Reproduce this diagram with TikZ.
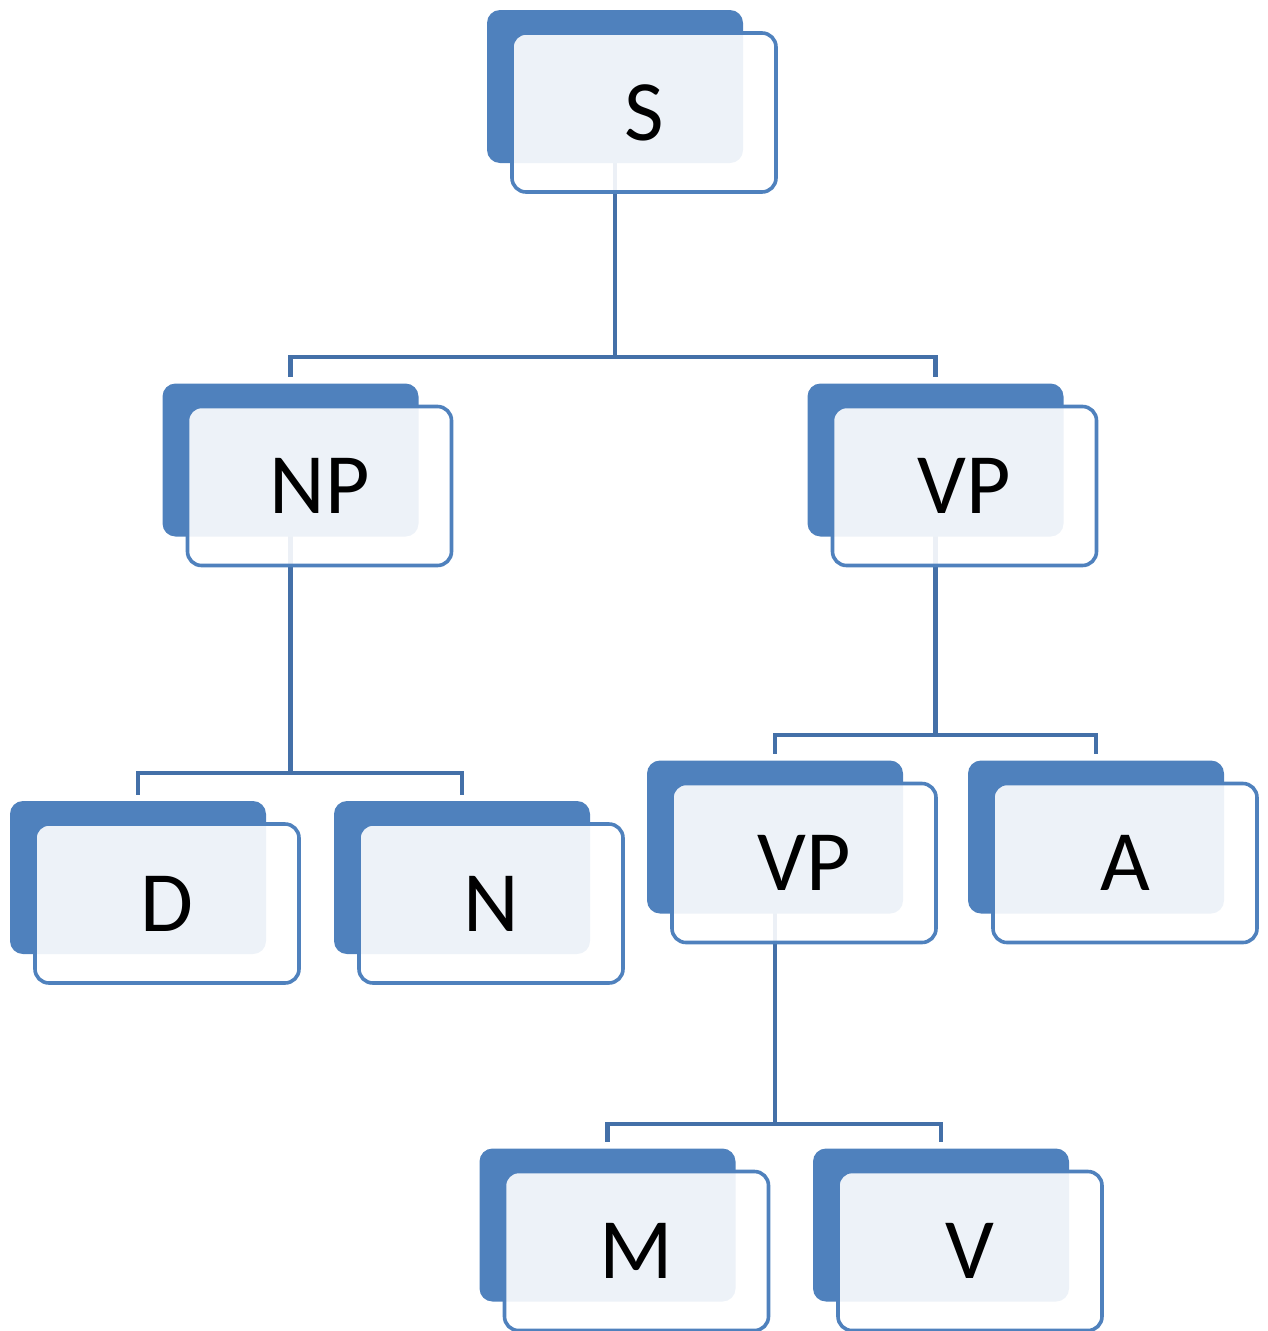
\documentclass[tikz,border=0pt]{standalone}
\usepackage{fontspec}
\setmainfont{Carlito}
\definecolor{cBack}{HTML}{4F81BD}
\definecolor{cLine}{HTML}{4470A8}
\pgfdeclarelayer{bg}
\pgfsetlayers{bg,main}
\newcommand\treenode[4]{%
  \path (#2,#3) ++(-29,-26) node[backbox] (#1b) {};
  \node[frontbox] (#1) at (#2,#3) {#4};}
\begin{document}
\begin{tikzpicture}[x=1pt,y=-1pt,
  backbox/.style={fill=cBack, rounded corners=13pt, minimum width=256pt, minimum height=153pt, inner sep=0pt},
  frontbox/.style={draw=cBack, line width=3.6pt, fill=white, fill opacity=0.9, text opacity=1,
    rounded corners=14pt, minimum width=264pt, minimum height=159pt, inner sep=0pt,
    font=\fontsize{86}{90}\selectfont},
  conn/.style={draw=cLine, line width=4.8pt, shorten >=6pt}]
\useasboundingbox (0,0) rectangle (1267,1331);
\treenode{S}{644}{112.5}{S}
\treenode{NP}{319.5}{486}{NP}
\treenode{VP}{964.5}{486}{VP}
\treenode{D}{167}{903.5}{D}
\treenode{N}{491}{903.5}{N}
\treenode{VPtwo}{804}{863}{VP}
\treenode{A}{1125}{863}{A}
\treenode{M}{636.5}{1251}{M}
\treenode{V}{970}{1251}{V}
\begin{pgfonlayer}{bg}
\coordinate (j1) at (Sb.center |- 0,357);
\coordinate (j2) at (NPb.center |- 0,773);
\coordinate (j3) at (VPb.center |- 0,735);
\coordinate (j4) at (VPtwob.center |- 0,1124);
\draw[conn, shorten >=0pt] (Sb.center) -- (j1);
\draw[conn] (j1) -| (NPb.north);
\draw[conn] (j1) -| (VPb.north);
\draw[conn, shorten >=0pt] (NPb.center) -- (j2);
\draw[conn] (j2) -| (Db.north);
\draw[conn] (j2) -| (Nb.north);
\draw[conn, shorten >=0pt] (VPb.center) -- (j3);
\draw[conn] (j3) -| (VPtwob.north);
\draw[conn] (j3) -| (Ab.north);
\draw[conn, shorten >=0pt] (VPtwob.center) -- (j4);
\draw[conn] (j4) -| (Mb.north);
\draw[conn] (j4) -| (Vb.north);
\end{pgfonlayer}
\end{tikzpicture}
\end{document}
